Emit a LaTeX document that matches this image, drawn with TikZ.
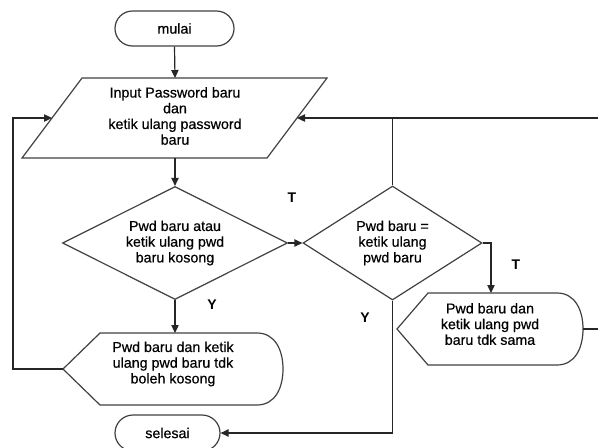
\documentclass[tikz,border=0pt]{standalone}
\usepackage{fontspec}
\setmainfont{Liberation Sans}
\newfontfamily\diagfont[FakeBold=0.5]{Liberation Sans}
\usetikzlibrary{shapes.geometric,shapes.misc,arrows.meta}
\begin{document}
\begin{tikzpicture}[x=0.75pt,y=-0.75pt,
  shp/.style={draw=black!75,line width=0.9pt},
  conn/.style={draw=black!85,line width=0.9pt},
  arr/.style={conn,-{Triangle[length=6pt,width=5.5pt]}},
  txt/.style={font=\diagfont\fontsize{10.7}{11.8}\selectfont,align=center,inner sep=0pt},
  lbl/.style={font=\fontsize{10.5}{12}\selectfont\bfseries,inner sep=0pt},
  term/.style={shp,rounded rectangle,rounded rectangle arc length=180,inner sep=0pt,txt},
  dec/.style={shp,diamond,aspect=2,inner sep=0pt,txt}]
\useasboundingbox (0,0) rectangle (598,447);
\clip (0,0) rectangle (598,447);

% terminators
\node[term,minimum width=89.25pt,minimum height=26.25pt] (mulai) at (174.5,28.5) {mulai};
\node[term,minimum width=78.75pt,minimum height=27pt] (selesai) at (167.5,433) {selesai};

% input parallelogram
\coordinate (pTL) at (82,78);
\coordinate (pTR) at (327,78);
\coordinate (pBR) at (267,158);
\coordinate (pBL) at (22,158);
\draw[shp] (pTL) -- (pTR) -- (pBR) -- (pBL) -- cycle;
\node[txt] (para) at (175,116) {Input Password baru\\dan\\ketik ulang password\\baru};
\coordinate (paraN) at (175,78);
\coordinate (paraS) at (175,158);
\coordinate (paraW) at (52,118);
\coordinate (paraE) at (297,118);

% decisions
\node[dec,minimum width=168.75pt,minimum height=84.75pt] (d1) at (175,243) {Pwd baru atau\\ketik ulang pwd\\baru kosong};
\node[dec,minimum width=134.25pt,minimum height=85.5pt] (d2) at (392.5,243) {Pwd baru =\\ketik ulang\\pwd baru};

% display 1
\draw[shp] (63,369) -- (100,333) -- (257,333) .. controls (275,333) and (283,350) .. (283,369)
  .. controls (283,388) and (275,405) .. (257,405) -- (100,405) -- cycle;
\node[txt] (disp1) at (173,364) {Pwd baru dan ketik\\ulang pwd baru tdk\\boleh kosong};
\coordinate (disp1N) at (175,333);
\coordinate (disp1W) at (63,369);

% display 2
\draw[shp] (397,329) -- (428,293) -- (557,293) .. controls (575,293) and (583,310) .. (583,329)
  .. controls (583,348) and (575,365) .. (557,365) -- (428,365) -- cycle;
\node[txt] (disp2) at (490,324) {Pwd baru dan\\ketik ulang pwd\\baru tdk sama};
\coordinate (disp2N) at (491,293);
\coordinate (disp2E) at (583,329);

% outer coordinates
\coordinate (rtop) at (598,118);
\coordinate (rside) at (598,329);

% connectors
\draw[arr] (mulai.south) -- (paraN);
\draw[arr] (paraS) -- (d1.north);
\draw[arr] (d1.east) -- (d2.west);
\draw[arr] (d1.south) -- (disp1N);
\draw[arr] (disp1W) -- ++(-50,0) |- (paraW);
\draw[arr] (rtop) -- (paraE);
\draw[conn] (d2.north) -- (d2.north |- paraE);
\draw[arr] (d2.east) -| (disp2N);
\draw[conn] (disp2E) -- (rside);
\draw[arr] (d2.south) |- (selesai.east);

% labels
\node[lbl] (t1) at (292,198) {T};
\node[lbl] (t2) at (516,265) {T};
\node[lbl] (y1) at (212,305) {Y};
\node[lbl] (y2) at (365,318) {Y};
\end{tikzpicture}
\end{document}
